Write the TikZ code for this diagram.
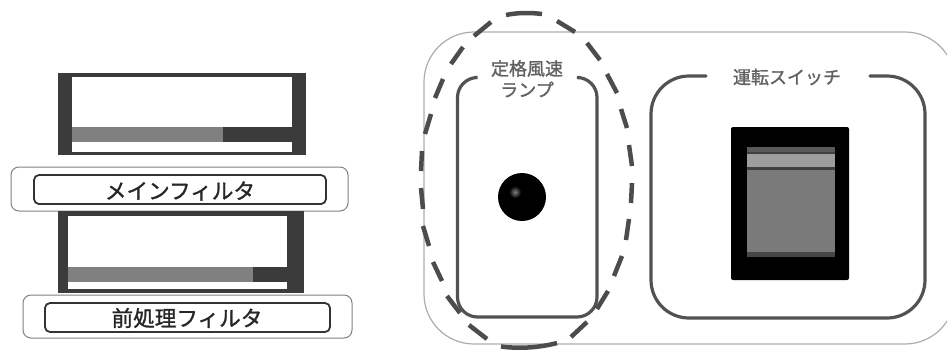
\documentclass[tikz,border=0pt]{standalone}
\usepackage{fontspec}
\newfontfamily\jp{Noto Sans CJK JP}
\newfontfamily\jpheavy[FakeBold=1.2]{Noto Sans CJK JP}
\tikzset{
  panelbox/.style={draw=black!32,line width=1.2pt,fill=white,rounded corners=50pt},
  labelouter/.style={draw=black!50,line width=1pt,rounded corners=8pt,fill=white},
  labelinner/.style={draw=black!80,line width=1.8pt,rounded corners=5pt,fill=white},
  labeltext/.style={font=\jpheavy\fontsize{21.6}{25}\selectfont,text=black!85,inner sep=0pt},
  smalltext/.style={font=\jpheavy\fontsize{18}{21}\selectfont,text=black!62,inner sep=0pt},
  framebox/.style={draw=black!68,line width=3.2pt,line cap=round},
  darkpart/.style={fill=black!77},
  midpart/.style={fill=black!50},
  rim/.style={draw=black!70,line width=4.5pt},
}
\begin{document}
\begin{tikzpicture}[x=1pt,y=-1pt]
\useasboundingbox (0,0) rectangle (947,349);
\clip (0,0) rectangle (947,349);
% main filter
\path[darkpart] (58,73) rectangle (306,155);
\path[fill=white] (72,77) rectangle (292,152);
\path[midpart] (72,127) rectangle (223,142);
\path[darkpart] (223,127) rectangle (292,142);
\path[labelouter] (11,167) rectangle (348,211);
\path[labelinner] (34,175) rectangle (326,204);
\node[labeltext] (mainlabel) at (180,191) {メインフィルタ};
% pre filter
\path[darkpart] (58,211) rectangle (304,293);
\path[fill=white] (68,216) rectangle (287,289);
\path[midpart] (68,267) rectangle (253,282);
\path[darkpart] (253,267) rectangle (287,282);
\path[labelouter] (23,295) rectangle (352,338);
\path[labelinner] (45,303) rectangle (330,332);
\node[labeltext] (prelabel) at (187,318) {前処理フィルタ};
% panel
\draw[panelbox] (424,32) rectangle (955,344);
% lamp box
\draw[framebox,rounded corners=20pt] (475,77.5) -- (457.5,77.5) -- (457.5,317) -- (597,317) -- (597,77.5) -- (580,77.5);
\node[smalltext] (lampa) at (527,68.5) {定格風速};
\node[smalltext] (lampb) at (527,89.5) {ランプ};
\path[fill=black] (522,197) circle[radius=24];
\shade[inner color=black!50,outer color=black] (515,192) circle[radius=6];
% switch box
\draw[framebox,rounded corners=38pt] (706,76) -- (651,76) -- (651,318) -- (925,318) -- (925,76) -- (870,76);
\node[smalltext] (swlabel) at (787,77) {運転スイッチ};
\path[fill=black,rounded corners=2pt] (731,127) rectangle (849,280);
\path[fill=black!65] (747,147) rectangle (835,257);
\path[fill=black!38] (747,153) rectangle (835,167);
\path[fill=black!75] (747,151.5) rectangle (835,153.5);
\path[fill=black!75] (747,167) rectangle (835,170);
\path[fill=black!52] (747,170) rectangle (835,252);
\path[fill=black!72] (747,252) rectangle (835,257);
% dashed ellipse, one stroke per dash
\draw[rim] (506,15) .. controls (518,12.5) and (530,12.5) .. (542,14);
\draw[rim] (501,346.5) .. controls (520,349) and (540,347.5) .. (557,343);
\foreach \ax/\ay/\bx/\by in {557/21/575/32,587/43/600/60,607/74/617/93,621/109/627/128,629/145/632/166,632/183/631/203,629/219/626/240,622/256/614/276,608/291/597/309,587/322/571/337,487/339/469/325,460/313/447/296,442/281/433/262,429/246/423/226,423/209/421/188,421/171/422/151,425/134/431/114,435/98/443/79,451/64/463/47,474/36/491/22}
  \draw[rim] (\ax,\ay) -- (\bx,\by);
\end{tikzpicture}
\end{document}
